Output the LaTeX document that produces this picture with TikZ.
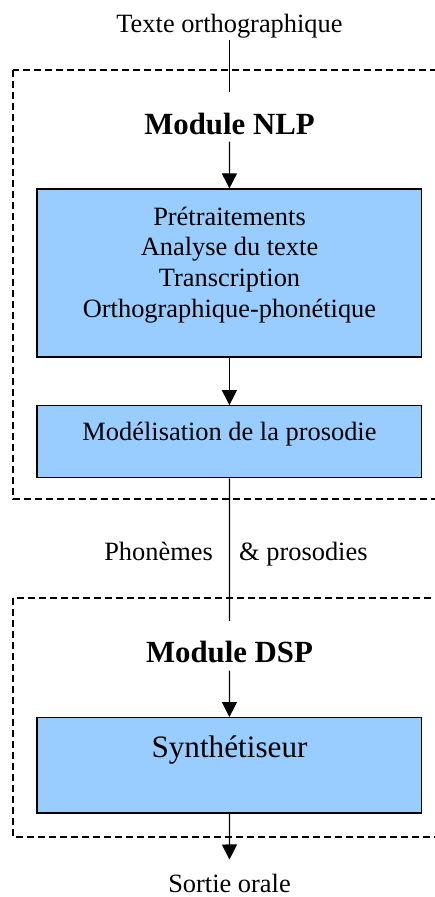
\documentclass[tikz,border=0pt]{standalone}
\usepackage{fontspec}
\setmainfont{Liberation Serif}
\usetikzlibrary{arrows.meta}
\definecolor{boxblue}{RGB}{153,204,255}
\begin{document}
\begin{tikzpicture}[x=1pt,y=-1pt,
  txt/.style={font=\fontsize{26.4}{30.7}\selectfont, inner sep=0pt, anchor=base},
  big/.style={font=\fontsize{31.2}{36}\selectfont, inner sep=0pt, anchor=base},
  ttl/.style={font=\fontsize{30.8}{36}\selectfont\bfseries, inner sep=0pt, anchor=base},
  box/.style={draw, fill=boxblue, line width=1.2pt, minimum width=384.7pt, inner sep=0pt},
  module/.style={draw, dash pattern=on 7pt off 4pt, line width=1.1pt},
  conn/.style={line width=1.2pt},
  arr/.style={conn, -{Triangle[length=15pt,width=15pt]}}]
\useasboundingbox (0,0) rectangle (435,897);
% dashed module frames
\draw[module] (13,70) rectangle (445,499);
\draw[module] (13,598) rectangle (445,837);
% boxes
\node[box, minimum height=168pt] (b1) at (229.4,273) {};
\node[box, minimum height=72pt] (b2) at (229.4,441.7) {};
\node[box, minimum height=95.3pt] (b3) at (229.4,765.3) {};
% texts
\node[txt] (src) at (229.5,32) {Texte orthographique};
\node[ttl] (nlp) at (229.5,134) {Module NLP};
\node[txt] (t1) at (229.5,225) {Prétraitements};
\node[txt] (t2) at (229.5,255.7) {Analyse du texte};
\node[txt] (t3) at (229.5,286.4) {Transcription};
\node[txt] (t4) at (229.5,317) {Orthographique-phonétique};
\node[txt] (t5) at (229.5,440) {Modélisation de la prosodie};
\node[txt, anchor=base east] (ph) at (213,560) {Phonèmes};
\node[txt, anchor=base west] (pr) at (239,560) {\& prosodies};
\node[ttl] (dsp) at (229.5,662) {Module DSP};
\node[big] (t6) at (229.5,757) {Synthétiseur};
\node[txt] (out) at (229.5,892) {Sortie orale};
% connectors
\draw[conn, shorten <=2.3pt, shorten >=20pt] (src.south) -- (nlp.north);
\draw[arr, shorten <=7pt] (nlp.south) -- (b1.north);
\draw[arr] (b1.south) -- (b2.north);
\draw[conn, shorten >=19.5pt] (b2.south) -- (dsp.north);
\draw[arr, shorten <=8pt] (dsp.south) -- (b3.north);
\draw[arr, shorten >=14pt] (b3.south) -- (out.north);
\end{tikzpicture}
\end{document}
